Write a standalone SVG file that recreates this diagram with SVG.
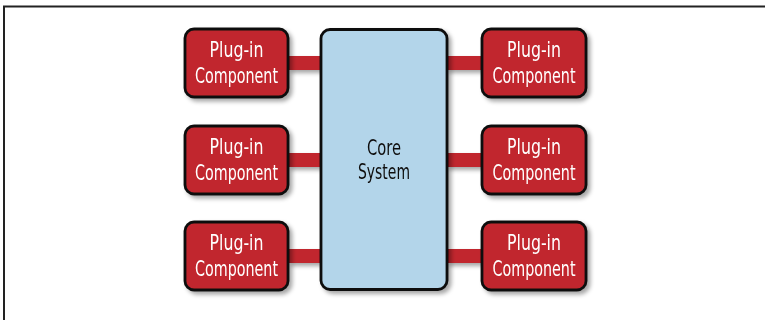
<svg xmlns="http://www.w3.org/2000/svg" width="765" height="320" viewBox="0 0 765 320">
<defs>
<style>
.plug{fill:#c1272d;stroke:#111;stroke-width:2.8;}
.core{fill:#b3d5ea;stroke:#111;stroke-width:2.8;}
.bar{fill:#c1272d;}
.pt{font-family:"DejaVu Sans Condensed","DejaVu Sans",sans-serif;font-size:20.5px;fill:#fff;text-anchor:middle;}
.ct{font-family:"DejaVu Sans Condensed","DejaVu Sans",sans-serif;font-size:20.5px;fill:#111;text-anchor:middle;}
</style>
<filter id="sh" x="-20%" y="-20%" width="140%" height="140%">
<feDropShadow dx="3" dy="3" stdDeviation="2" flood-color="#000" flood-opacity="0.35"/>
</filter>
</defs>
<rect x="0" y="0" width="765" height="320" fill="#fff"/>
<path d="M4 320 V6.5 H765" fill="none" stroke="#222" stroke-width="2"/>
<g id="connectors" filter="url(#sh)">
<rect class="bar" x="288" y="56" width="34" height="14"/>
<rect class="bar" x="288" y="153" width="34" height="14"/>
<rect class="bar" x="288" y="249" width="34" height="14"/>
<rect class="bar" x="446" y="56" width="36" height="14"/>
<rect class="bar" x="446" y="153" width="36" height="14"/>
<rect class="bar" x="446" y="249" width="36" height="14"/>
</g>
<g id="core" filter="url(#sh)">
<rect class="core" x="321" y="29.5" width="126" height="260" rx="9"/>
<text class="ct" x="384" y="155" textLength="34" lengthAdjust="spacingAndGlyphs">Core</text>
<text class="ct" x="384" y="179" textLength="52" lengthAdjust="spacingAndGlyphs">System</text>
</g>
<g id="p1" filter="url(#sh)">
<rect class="plug" x="185" y="29" width="103" height="68" rx="9"/>
<text class="pt" x="236.5" y="57" textLength="54" lengthAdjust="spacingAndGlyphs">Plug-in</text>
<text class="pt" x="236.5" y="83" textLength="83" lengthAdjust="spacingAndGlyphs">Component</text>
</g>
<g id="p2" filter="url(#sh)">
<rect class="plug" x="185" y="126" width="103" height="68" rx="9"/>
<text class="pt" x="236.5" y="154" textLength="54" lengthAdjust="spacingAndGlyphs">Plug-in</text>
<text class="pt" x="236.5" y="180" textLength="83" lengthAdjust="spacingAndGlyphs">Component</text>
</g>
<g id="p3" filter="url(#sh)">
<rect class="plug" x="185" y="222" width="103" height="68" rx="9"/>
<text class="pt" x="236.5" y="250" textLength="54" lengthAdjust="spacingAndGlyphs">Plug-in</text>
<text class="pt" x="236.5" y="276" textLength="83" lengthAdjust="spacingAndGlyphs">Component</text>
</g>
<g id="p4" filter="url(#sh)">
<rect class="plug" x="482" y="29" width="104" height="68" rx="9"/>
<text class="pt" x="534" y="57" textLength="54" lengthAdjust="spacingAndGlyphs">Plug-in</text>
<text class="pt" x="534" y="83" textLength="83" lengthAdjust="spacingAndGlyphs">Component</text>
</g>
<g id="p5" filter="url(#sh)">
<rect class="plug" x="482" y="126" width="104" height="68" rx="9"/>
<text class="pt" x="534" y="154" textLength="54" lengthAdjust="spacingAndGlyphs">Plug-in</text>
<text class="pt" x="534" y="180" textLength="83" lengthAdjust="spacingAndGlyphs">Component</text>
</g>
<g id="p6" filter="url(#sh)">
<rect class="plug" x="482" y="222" width="104" height="68" rx="9"/>
<text class="pt" x="534" y="250" textLength="54" lengthAdjust="spacingAndGlyphs">Plug-in</text>
<text class="pt" x="534" y="276" textLength="83" lengthAdjust="spacingAndGlyphs">Component</text>
</g>
</svg>
